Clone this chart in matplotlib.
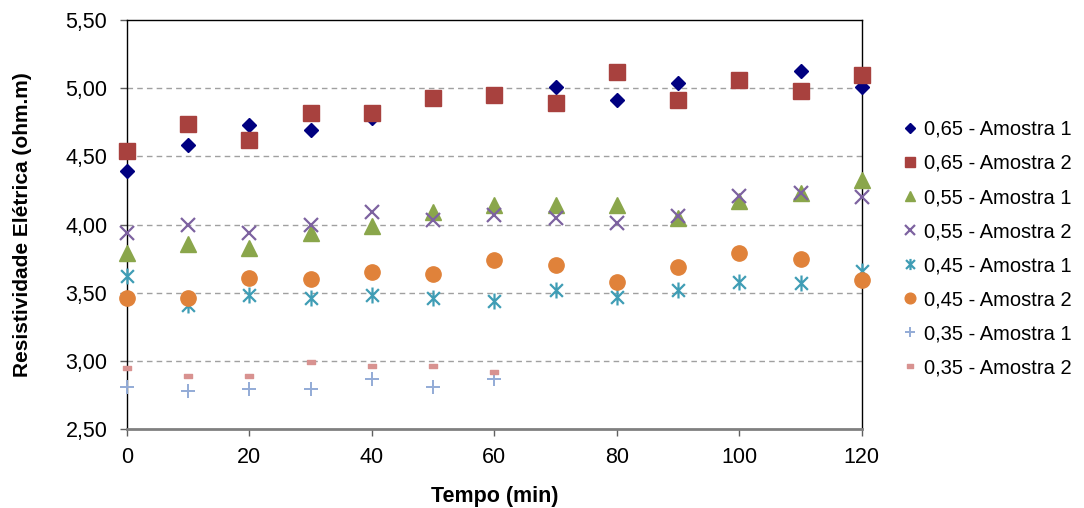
import numpy as np
import matplotlib.pyplot as plt
from matplotlib.path import Path
from matplotlib.ticker import FuncFormatter

plt.rcParams['font.family'] = ['Liberation Sans', 'DejaVu Sans']

tempo = [0, 10, 20, 30, 40, 50, 60, 70, 80, 90, 100, 110, 120]
tempo_035 = [0, 10, 20, 30, 40, 50, 60]

r065_a1 = [4.39, 4.58, 4.73, 4.69, 4.78, 4.92, 4.94, 5.01, 4.91, 5.04, 5.06, 5.13, 5.01]
r065_a2 = [4.54, 4.74, 4.62, 4.82, 4.82, 4.93, 4.95, 4.89, 5.12, 4.91, 5.06, 4.98, 5.10]
r055_a1 = [3.79, 3.86, 3.83, 3.94, 3.99, 4.09, 4.14, 4.14, 4.14, 4.05, 4.17, 4.23, 4.33]
r055_a2 = [3.94, 4.00, 3.94, 4.00, 4.09, 4.03, 4.07, 4.05, 4.01, 4.06, 4.21, 4.23, 4.20]
r045_a1 = [3.62, 3.41, 3.48, 3.46, 3.48, 3.46, 3.44, 3.52, 3.47, 3.52, 3.58, 3.57, 3.66]
r045_a2 = [3.46, 3.46, 3.61, 3.60, 3.65, 3.64, 3.74, 3.70, 3.58, 3.69, 3.79, 3.75, 3.59]
r035_a1 = [2.81, 2.78, 2.79, 2.79, 2.87, 2.81, 2.87]
r035_a2 = [2.95, 2.89, 2.89, 2.99, 2.96, 2.96, 2.92]

labels = ['0,65 - Amostra 1', '0,65 - Amostra 2', '0,55 - Amostra 1', '0,55 - Amostra 2',
          '0,45 - Amostra 1', '0,45 - Amostra 2', '0,35 - Amostra 1', '0,35 - Amostra 2']

# asterisco estilo Excel (x + barra vertical)
asterisco = Path([(0, -1), (0, 1), (-0.8, -0.8), (0.8, 0.8), (-0.8, 0.8), (0.8, -0.8)],
                 [Path.MOVETO, Path.LINETO] * 3)
traco = Path([(-1, -0.55), (1, -0.55), (1, 0.55), (-1, 0.55), (-1, -0.55)],
             [Path.MOVETO, Path.LINETO, Path.LINETO, Path.LINETO, Path.CLOSEPOLY])

series = [
    (tempo, r065_a1, dict(marker='D', ms=7.5, color='#000080')),
    (tempo, r065_a2, dict(marker='s', ms=11, color='#A8413E')),
    (tempo, r055_a1, dict(marker='^', ms=11, color='#8AA64B')),
    (tempo, r055_a2, dict(marker='x', ms=10, mew=1.6, color='#7D62A0')),
    (tempo, r045_a1, dict(marker=asterisco, ms=11.5, mew=1.6, mfc='none', color='#3F9DB5')),
    (tempo, r045_a2, dict(marker='o', ms=11, color='#E0823A')),
    (tempo_035, r035_a1, dict(marker='+', ms=10, mew=1.4, color='#93ABD6')),
    (tempo_035, r035_a2, dict(marker=traco, ms=6, color='#D89290')),
]

fig = plt.figure(figsize=(10.84, 5.08), dpi=100)
ax = fig.add_axes([0.117, 0.1555, 0.678, 0.805])

for (xs, ys, st), lab in zip(series, labels):
    ax.plot(xs, ys, linestyle='none', label=lab, clip_on=False, zorder=3, **st)

ax.set_xlim(0, 120)
ax.set_ylim(2.5, 5.5)
ax.set_xticks(np.arange(0, 121, 20))
ax.set_yticks(np.arange(2.5, 5.51, 0.5))
ax.yaxis.set_major_formatter(FuncFormatter(lambda v, p: f'{v:.2f}'.replace('.', ',')))

for y in [3.0, 3.5, 4.0, 4.5, 5.0]:
    ax.axhline(y, color='#A0A0A0', lw=1, ls=(0, (4, 3)), zorder=1)

for s in ['top', 'right', 'left']:
    ax.spines[s].set_color('black')
    ax.spines[s].set_linewidth(1)
ax.spines['bottom'].set_color('#808080')
ax.spines['bottom'].set_linewidth(2)

ax.tick_params(axis='both', direction='out', length=5, width=1, color='#606060',
               labelsize=15.5, labelcolor='black')
ax.tick_params(axis='y', pad=9)
ax.tick_params(axis='x', pad=8)

ax.set_xlabel('Tempo (min)', fontsize=15.5, fontweight='bold', labelpad=13)
ax.set_ylabel('Resistividade Elétrica (ohm.m)', fontsize=15, fontweight='bold', labelpad=24)

fig.legend(loc='upper left', bbox_to_anchor=(0.826, 0.78), frameon=False, fontsize=14.5,
           markerscale=0.7, handlelength=0.7, handletextpad=0.3, labelspacing=0.75,
           borderaxespad=0)

fig.savefig('out.png', dpi=100)
